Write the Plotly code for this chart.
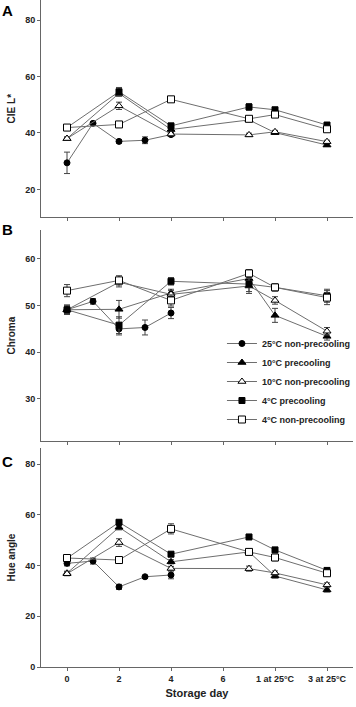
import plotly.graph_objects as go

# ---------------- data ----------------
days_25 = [0, 1, 2, 3, 4]
days_cold = [0, 2, 4, 7, 8, 10]
tick_vals = [0, 2, 4, 6, 8, 10]
tick_text = ["0", "2", "4", "6", "1 at 25°C", "3 at 25°C"]

series_names = ["25°C non-precooling", "10°C precooling", "10°C non-precooling",
                "4°C precooling", "4°C non-precooling"]

# Panel A: CIE L*
L_25np = [29.4, 43.4, 37.0, 37.4, 39.4]
L_25np_err = [3.8, 0.5, 0.6, 1.2, 0.5]
L_10p = [38.0, 54.0, 41.2, 44.6, 40.1, 35.7]
L_10p_err = [0.5, 1.0, 0.5, 0.5, 0.5, 0.5]
L_10np = [38.0, 49.6, 39.6, 39.3, 40.4, 36.9]
L_10np_err = [0.6, 1.3, 0.6, 0.6, 0.5, 0.5]
L_4p = [41.9, 54.6, 42.5, 49.2, 48.2, 42.8]
L_4p_err = [0.5, 1.5, 0.6, 1.2, 0.6, 0.6]
L_4np = [41.9, 43.0, 51.9, 45.0, 46.5, 41.3]
L_4np_err = [0.6, 0.8, 0.6, 0.6, 0.8, 0.6]

# Panel B: Chroma
C_25np = [49.1, 50.9, 45.0, 45.3, 48.4]
C_25np_err = [0.8, 0.6, 1.3, 1.6, 1.2]
C_10p = [49.1, 49.2, 52.7, 55.8, 47.9, 43.4]
C_10p_err = [0.8, 1.9, 0.8, 1.5, 1.5, 0.8]
C_10np = [49.1, 55.0, 52.4, 54.2, 51.1, 44.5]
C_10np_err = [1.0, 1.0, 0.8, 1.6, 0.8, 0.8]
C_4p = [49.1, 45.8, 55.2, 54.6, 53.9, 52.1]
C_4p_err = [1.0, 1.8, 0.8, 1.6, 0.7, 1.4]
C_4np = [53.2, 55.4, 51.1, 56.9, 53.9, 51.7]
C_4np_err = [1.3, 1.0, 1.2, 0.8, 0.8, 1.5]

# Panel C: Hue angle
H_25np = [40.9, 41.8, 31.6, 35.6, 36.3]
H_25np_err = [1.0, 1.2, 1.0, 0.5, 1.5]
H_10p = [37.0, 55.1, 41.5, 45.4, 35.9, 30.4]
H_10p_err = [0.8, 1.0, 0.8, 0.8, 0.8, 0.8]
H_10np = [36.8, 49.1, 38.9, 38.8, 37.1, 32.4]
H_10np_err = [0.8, 1.5, 0.8, 1.0, 0.8, 0.8]
H_4p = [42.9, 57.1, 44.5, 51.3, 46.2, 38.1]
H_4p_err = [0.8, 0.8, 0.8, 1.0, 0.8, 0.8]
H_4np = [43.0, 42.2, 54.5, 45.4, 43.2, 37.0]
H_4np_err = [0.8, 1.2, 2.0, 1.2, 1.3, 1.0]

# ---------------- styles ----------------
styles = [
    dict(symbol="circle", color="black", size=6),
    dict(symbol="triangle-up", color="black", size=7),
    dict(symbol="triangle-up", color="white", size=7),
    dict(symbol="square", color="black", size=6),
    dict(symbol="square", color="white", size=7),
]
LINE_COL = "#6e6e6e"
AX_COL = "#666666"
FONT = "Liberation Sans, Arial, sans-serif"

panels = [
    ("y", [(days_25, L_25np, L_25np_err), (days_cold, L_10p, L_10p_err), (days_cold, L_10np, L_10np_err),
           (days_cold, L_4p, L_4p_err), (days_cold, L_4np, L_4np_err)]),
    ("y2", [(days_25, C_25np, C_25np_err), (days_cold, C_10p, C_10p_err), (days_cold, C_10np, C_10np_err),
            (days_cold, C_4p, C_4p_err), (days_cold, C_4np, C_4np_err)]),
    ("y3", [(days_25, H_25np, H_25np_err), (days_cold, H_10p, H_10p_err), (days_cold, H_10np, H_10np_err),
            (days_cold, H_4p, H_4p_err), (days_cold, H_4np, H_4np_err)]),
]

fig = go.Figure()
for pi, (yax, data) in enumerate(panels):
    xax = ["x", "x2", "x3"][pi]
    for si, (xs, ys, es) in enumerate(data):
        st = styles[si]
        fig.add_trace(go.Scatter(
            x=xs, y=ys, xaxis=xax, yaxis=yax,
            mode="lines+markers",
            name="<b>%s</b>" % series_names[si],
            showlegend=(pi == 1),
            line=dict(color=LINE_COL, width=1),
            marker=dict(symbol=st["symbol"], size=st["size"], color=st["color"],
                        line=dict(color="black", width=1)),
            error_y=dict(type="data", array=es, visible=True, color="#444", thickness=1, width=3),
        ))

H = 707
PLOT_H = 667.0


def dom(top_px, bot_px):
    return [(PLOT_H - bot_px) / PLOT_H, (PLOT_H - top_px) / PLOT_H]


tickfont = dict(family=FONT, size=9, color="#222")
titlefont = dict(family=FONT, size=10, color="#222")

xcommon = dict(range=[-1, 11], tickvals=tick_vals, showline=True,
               linecolor=AX_COL, linewidth=1, ticks="outside", ticklen=3, tickcolor=AX_COL,
               showgrid=False, zeroline=False, tickfont=tickfont)
ycommon = dict(showline=True, linecolor=AX_COL, linewidth=1, ticks="outside", ticklen=3,
               tickcolor=AX_COL, showgrid=False, zeroline=False, tickfont=tickfont)

fig.update_layout(
    width=356, height=H,
    margin=dict(l=41, r=3, t=0, b=40),
    plot_bgcolor="white", paper_bgcolor="white",
    font=dict(family=FONT, color="#222"),
    xaxis=dict(**xcommon, anchor="y", showticklabels=False),
    xaxis2=dict(**xcommon, anchor="y2", matches="x", showticklabels=False),
    xaxis3=dict(**xcommon, anchor="y3", matches="x",
                ticktext=["<b>%s</b>" % t for t in tick_text],
                title=dict(text="<b>Storage day</b>", font=dict(family=FONT, size=11, color="#222"), standoff=6)),
    yaxis=dict(**ycommon, domain=dom(0, 217.3), range=[10.1, 87.1], tickvals=[20, 40, 60, 80],
               ticktext=["<b>20</b>", "<b>40</b>", "<b>60</b>", "<b>80</b>"],
               title=dict(text="<b>CIE L*</b>", font=titlefont, standoff=7)),
    yaxis2=dict(**ycommon, domain=dom(230, 441.3), range=[20.9, 66.2], tickvals=[30, 40, 50, 60],
                ticktext=["<b>30</b>", "<b>40</b>", "<b>50</b>", "<b>60</b>"],
                title=dict(text="<b>Chroma</b>", font=titlefont, standoff=7)),
    yaxis3=dict(**ycommon, domain=dom(448, 667), range=[0, 86.4], tickvals=[0, 20, 40, 60, 80],
                ticktext=["<b>0</b>", "<b>20</b>", "<b>40</b>", "<b>60</b>", "<b>80</b>"],
                title=dict(text="<b>Hue angle</b>", font=titlefont, standoff=7)),
    legend=dict(x=0.58, y=dom(230, 434)[0], xanchor="left", yanchor="bottom",
                bgcolor="rgba(0,0,0,0)", font=dict(family=FONT, size=9, color="#222"),
                itemwidth=30, tracegroupgap=0),
)

for letter, ypx in [("A", 0), ("B", 219), ("C", 451)]:
    fig.add_annotation(text="<b>%s</b>" % letter, xref="paper", yref="paper",
                       x=-41 / 312.0, y=(PLOT_H - ypx) / PLOT_H, xanchor="left", yanchor="top",
                       showarrow=False, font=dict(family=FONT, size=15, color="black"))

fig.write_html("out.html")
